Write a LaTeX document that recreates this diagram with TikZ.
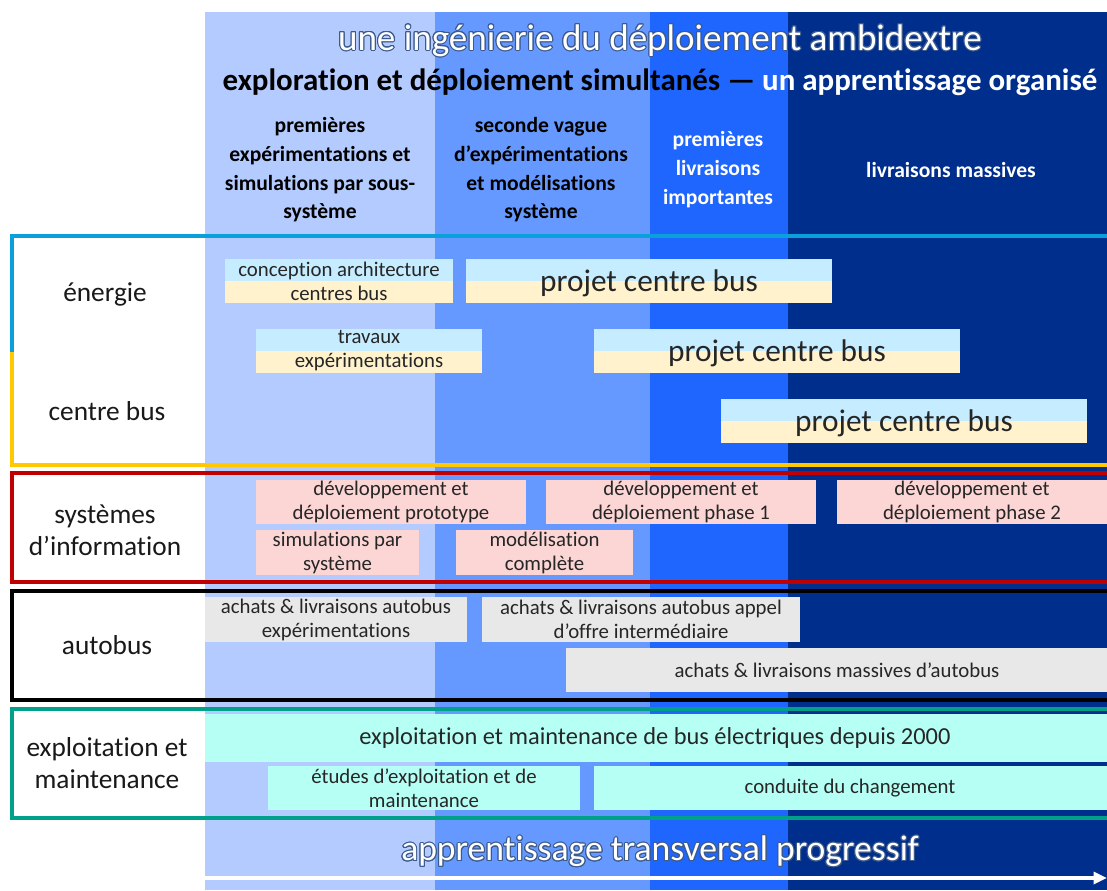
\documentclass[tikz,border=0pt]{standalone}
\usepackage{fontspec}
\setmainfont{Carlito}[Ligatures=NoCommon]
\usepackage{contour}
\contourlength{0.8pt}
\usetikzlibrary{arrows.meta}

\definecolor{phaseA}{HTML}{B4CBFF}
\definecolor{phaseB}{HTML}{6699FF}
\definecolor{phaseC}{HTML}{1F66FF}
\definecolor{phaseD}{HTML}{002E8C}
\definecolor{barSky}{HTML}{C5ECFF}
\definecolor{barCream}{HTML}{FFF2CC}
\definecolor{barPink}{HTML}{FCD5D5}
\definecolor{barGrey}{HTML}{E8E8E8}
\definecolor{barAqua}{HTML}{B5FFF4}
\definecolor{frameBlue}{HTML}{0AA0DC}
\definecolor{frameYellow}{HTML}{FFC800}
\definecolor{frameRed}{HTML}{C00000}
\definecolor{frameTeal}{HTML}{00A08A}
\definecolor{outlineBlue}{HTML}{3C5A8C}

\begin{document}
\begin{tikzpicture}[x=0.75pt,y=0.75pt,yscale=-1,
  bartext/.style={inner sep=0.75pt,align=center,text=black!85,font=\fontsize{15.6}{18}\selectfont},
  bigbar/.style={inner sep=0.75pt,text=black!85,font=\fontsize{23.5}{26}\selectfont},
  rowlabel/.style={inner sep=0.75pt,align=center,text=black!90,font=\fontsize{20.5}{24}\selectfont},
  phasehead/.style={inner sep=0.75pt,align=center,font=\bfseries\fontsize{16.2}{21.5}\selectfont},
  frameline/.style={line width=3pt}]
\useasboundingbox (0,0) rectangle (1107,890);

%Shape: Rectangle [phase columns]
\fill[phaseA] (205,12) rectangle (435,890);
\fill[phaseB] (435,12) rectangle (650,890);
\fill[phaseC] (650,12) rectangle (788,890);
\fill[phaseD] (788,12) rectangle (1107,890);

% Text Node
\node[inner sep=0.75pt,font=\fontsize{27.8}{30}\selectfont,text=white] (ambi) at (660,41) {\contour{outlineBlue}{une ingénierie du déploiement ambidextre}};
% Text Node
\node[inner sep=0.75pt,font=\bfseries\fontsize{23.2}{26}\selectfont] (simul) at (660,82) {exploration et déploiement simultanés — \textcolor{white}{un apprentissage organisé}};

% Text Node
\node[phasehead] (headA) at (320,170) {premières\\expérimentations et\\simulations par sous-\\système};
% Text Node
\node[phasehead] (headB) at (541,170) {seconde vague\\d’expérimentations\\et modélisations\\système};
% Text Node
\node[phasehead,text=white] (headC) at (718,169.5) {premières\\livraisons\\importantes};
% Text Node
\node[phasehead,text=white] (headD) at (951,170) {livraisons massives};

%Shape: Frame [énergie / centre bus]
\fill[white] (12,236) rectangle (205,465);
\draw[frameline,frameBlue] (12,352) -- (12,236) -- (1107,236);
\draw[frameline,frameYellow] (12,352) -- (12,465) -- (1107,465);
%Shape: Frame [systèmes d'information]
\fill[white] (12,473) rectangle (205,582);
\draw[frameline,frameRed] (1107,473) -- (12,473) -- (12,582) -- (1107,582);
%Shape: Frame [autobus]
\fill[white] (12,591) rectangle (205,700);
\draw[line width=3.6pt,black] (1107,591) -- (12,591) -- (12,700) -- (1107,700);
%Shape: Frame [exploitation]
\fill[white] (12,709) rectangle (205,818);
\draw[frameline,frameTeal] (1107,709) -- (12,709) -- (12,818) -- (1107,818);

% Text Node
\node[rowlabel] (energie) at (105,294) {énergie};
% Text Node
\node[rowlabel] (centre) at (107,411) {centre bus};
% Text Node
\node[rowlabel] (sysinfo) at (105,530) {systèmes\\d’information};
% Text Node
\node[rowlabel] (autobus) at (107,645) {autobus};
% Text Node
\node[rowlabel] (exploit) at (107,763) {exploitation et\\maintenance};

%Shape: Rectangle [énergie bars]
\fill[barSky] (225,259) rectangle (453,281);   \fill[barCream] (225,281) rectangle (453,303);
\fill[barSky] (466,259) rectangle (832,281);   \fill[barCream] (466,281) rectangle (832,303);
\fill[barSky] (256,329) rectangle (482,351);   \fill[barCream] (256,351) rectangle (482,373);
\fill[barSky] (594,329) rectangle (960,351);   \fill[barCream] (594,351) rectangle (960,373);
\fill[barSky] (721,399) rectangle (1087,421);  \fill[barCream] (721,421) rectangle (1087,443);

% Text Node
\node[bartext] (concep) at (339,281) {conception architecture\\centres bus};
% Text Node
\node[bigbar] (projetA) at (649,283) {projet centre bus};
% Text Node
\node[bartext] (travaux) at (369,351) {travaux\\expérimentations};
% Text Node
\node[bigbar] (projetB) at (777,353) {projet centre bus};
% Text Node
\node[bigbar] (projetC) at (904,423) {projet centre bus};

%Shape: Rectangle [systèmes d'information bars]
\fill[barPink] (256,480) rectangle (526,524);
\fill[barPink] (546,480) rectangle (816,524);
\fill[barPink] (837,480) rectangle (1107,524);
\fill[barPink] (256,530) rectangle (419,575);
\fill[barPink] (456,530) rectangle (633,575);

% Text Node
\node[bartext] (devproto) at (391,502) {développement et\\déploiement prototype};
% Text Node
\node[bartext] (devun) at (681,502) {développement et\\déploiement phase 1};
% Text Node
\node[bartext] (devdeux) at (972,502) {développement et\\déploiement phase 2};
% Text Node
\node[bartext] (simsys) at (337.5,552.5) {simulations par\\système};
% Text Node
\node[bartext] (modcomp) at (544.5,552.5) {modélisation\\complète};

%Shape: Rectangle [autobus bars]
\fill[barGrey] (205,597) rectangle (467,642);
\fill[barGrey] (482,597) rectangle (800,642);
\fill[barGrey] (566,648) rectangle (1107,692);

% Text Node
\node[bartext] (achexp) at (336,619.5) {achats \& livraisons autobus\\expérimentations};
% Text Node
\node[bartext] (achint) at (641,619.5) {achats \& livraisons autobus appel\\d’offre intermédiaire};
% Text Node
\node[bartext] (achmas) at (837,670) {achats \& livraisons massives d’autobus};

%Shape: Rectangle [exploitation bars]
\fill[barAqua] (205,714) rectangle (1107,762);
\fill[barAqua] (268,766) rectangle (580,810);
\fill[barAqua] (594,766) rectangle (1107,810);

% Text Node
\node[bartext,font=\fontsize{18.3}{20}\selectfont] (depuis) at (655,738) {exploitation et maintenance de bus électriques depuis 2000};
% Text Node
\node[bartext] (etudes) at (424,788) {études d’exploitation et de\\maintenance};
% Text Node
\node[bartext] (conduite) at (850,788) {conduite du changement};

% Text Node
\node[inner sep=0.75pt,font=\fontsize{26.7}{30}\selectfont,text=white] (transv) at (660,852) {\contour{outlineBlue}{apprentissage transversal progressif}};

%Right Arrow [time axis]
\coordinate (axisstart) at (205,878);
\coordinate (axisend) at (1107,878);
\draw[white,line width=2.4pt,-{Triangle[length=10pt,width=9pt]}] (axisstart) -- (axisend);

\end{tikzpicture}
\end{document}
